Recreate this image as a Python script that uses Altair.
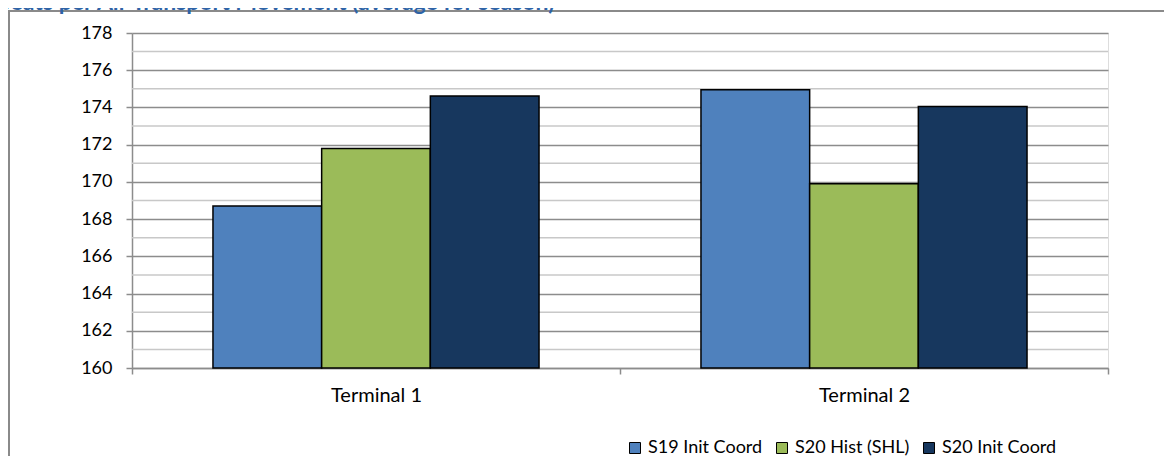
import altair as alt
import pandas as pd

# ---- data ----
terminals = ["Terminal 1", "Terminal 2"]
series = ["S19 Init Coord", "S20 Hist (SHL)", "S20 Init Coord"]
s19_init_coord = [168.7, 174.95]
s20_hist_shl = [171.8, 169.9]
s20_init_coord = [174.62, 174.05]
colors = ["#4F81BD", "#9BBB59", "#17375E"]
major_ticks = [160, 162, 164, 166, 168, 170, 172, 174, 176, 178]
minor_grid = [161, 163, 165, 167, 169, 171, 173, 175, 177]
title_text = "Seats per Air Transport Movement (average for season)"

rows = []
for i, t in enumerate(terminals):
    for s, vals in zip(series, [s19_init_coord, s20_hist_shl, s20_init_coord]):
        rows.append({"terminal": t, "series": s, "value": vals[i]})
df = pd.DataFrame(rows)

W, H = 976, 335
FONT = "Lato"
GRID_DARK = "#8c8c8c"
GRID_LIGHT = "#c8c8c8"

yscale = alt.Scale(domain=[160, 178], nice=False, zero=False)
yaxis = alt.Axis(
    title=None, values=major_ticks, grid=True, gridColor=GRID_DARK, gridWidth=1.5,
    domainColor=GRID_DARK, domainWidth=1.5, tickColor=GRID_DARK, tickWidth=1.5,
    tickSize=6, labelFontSize=18, labelColor="#000000", labelPadding=14, labelFont=FONT,
)

minor = alt.Chart(pd.DataFrame({"value": minor_grid})).mark_rule(
    color=GRID_LIGHT, strokeWidth=1.5
).encode(y=alt.Y("value:Q", scale=yscale, axis=yaxis))

bars = alt.Chart(df).mark_bar(stroke="#000000", strokeWidth=1.5).encode(
    x=alt.X(
        "terminal:N", sort=terminals,
        scale=alt.Scale(paddingInner=0, paddingOuter=0),
        axis=alt.Axis(
            title=None, labelAngle=0, tickBand="extent", domainColor=GRID_DARK,
            domainWidth=1.5, tickColor=GRID_DARK, tickWidth=1.5, tickSize=6,
            labelFontSize=20, labelColor="#000000", labelPadding=11, labelFont=FONT,
        ),
    ),
    xOffset=alt.XOffset(
        "series:N", sort=series,
        scale=alt.Scale(domain=series, paddingInner=0, paddingOuter=0.745),
    ),
    y=alt.Y("value:Q", scale=yscale, axis=yaxis),
    y2=alt.datum(160),
    color=alt.Color(
        "series:N", sort=series,
        scale=alt.Scale(domain=series, range=colors),
        legend=alt.Legend(
            title=None, orient="none", legendX=494, legendY=406, direction="horizontal",
            symbolType="square", symbolSize=121, symbolStrokeColor="#000000",
            symbolStrokeWidth=1, labelFontSize=18, labelFont=FONT, labelColor="#000000",
            columnPadding=10, labelOffset=4,
        ),
    ),
)

border = alt.Chart(pd.DataFrame({"a": [0]})).mark_rect(
    fillOpacity=0, stroke="#8a8a8a", strokeWidth=2
).encode(
    x=alt.value(-123), x2=alt.value(W + 80), y=alt.value(-22), y2=alt.value(H + 200)
)

title = alt.Chart(pd.DataFrame({"a": [0]})).mark_text(
    text=title_text, align="left", baseline="alphabetic", fontSize=23,
    fontWeight="bold", color="#2E63A6", font=FONT,
).encode(x=alt.value(-134), y=alt.value(-23))

chart = alt.layer(minor, bars, border, title).properties(
    width=W, height=H,
    autosize=alt.AutoSizeParams(type="none"),
    padding={"left": 124, "top": 25, "right": 56, "bottom": 88},
).configure_view(stroke=None).configure(background="#ffffff")

chart.save("out.html", embed_options={"renderer": "svg", "actions": False})
